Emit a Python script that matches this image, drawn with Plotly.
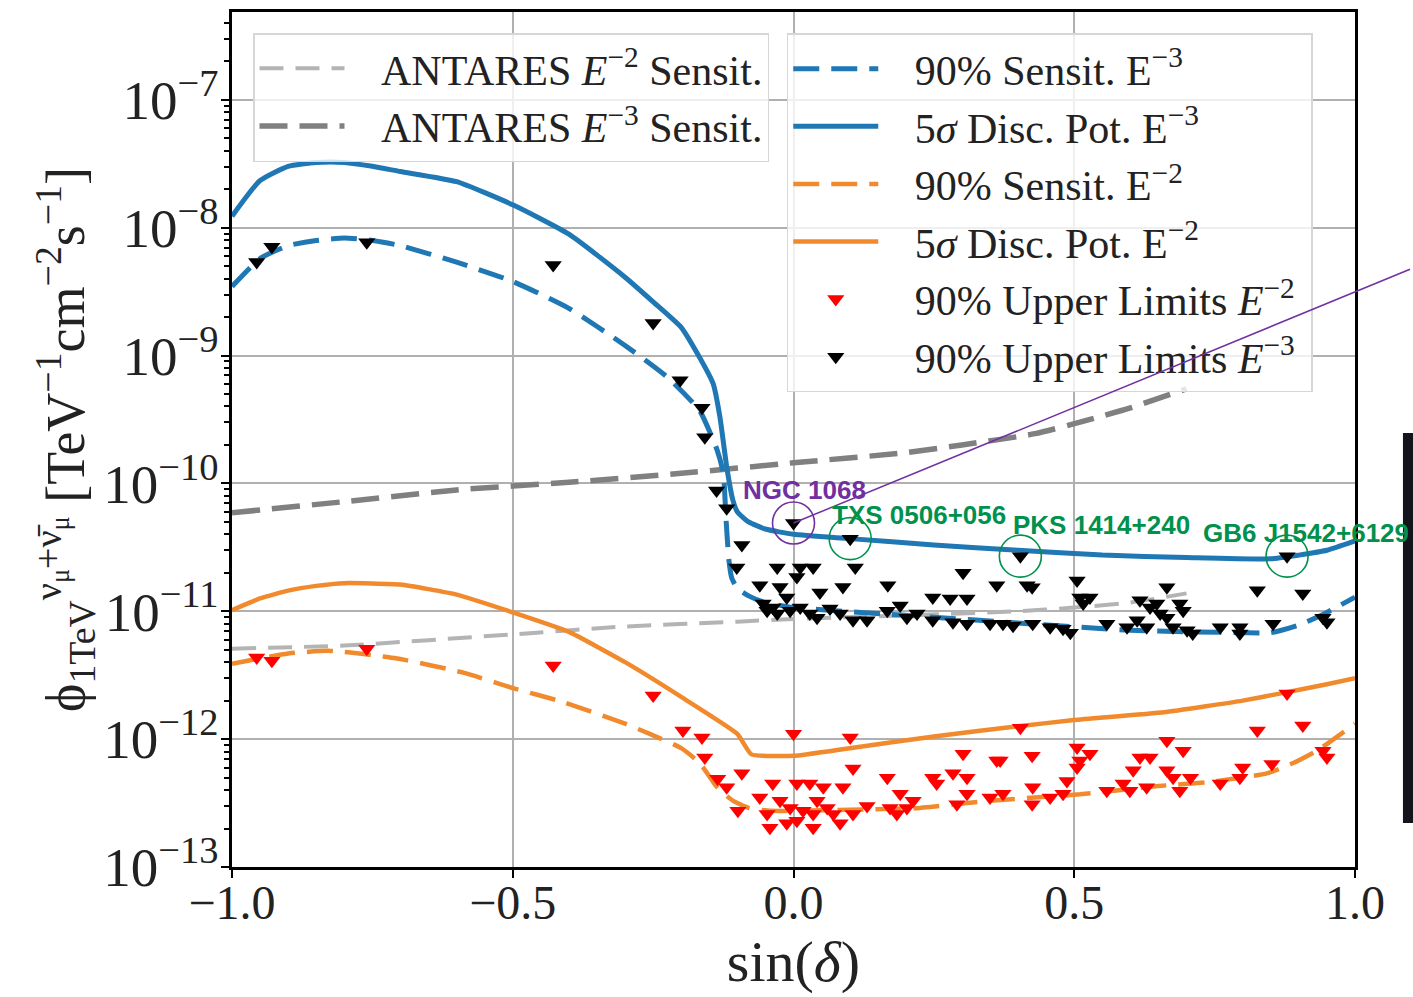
import math
import plotly.graph_objects as go

# ---------------- data ----------------
# 5 sigma discovery potential E^-3 (blue solid)
disc_e3_sind = [-1.0, -0.95, -0.9, -0.85, -0.8, -0.75, -0.7, -0.6, -0.5, -0.4, -0.3, -0.25, -0.2,
                -0.172, -0.143, -0.131, -0.119, -0.108, -0.1, -0.08, -0.05, 0.0, 0.1, 0.25, 0.4,
                0.55, 0.7, 0.85, 0.9, 0.95, 1.0]
disc_e3_flux = [1.23e-8, 2.34e-8, 3.02e-8, 3.24e-8, 3.24e-8, 3.02e-8, 2.75e-8, 2.29e-8, 1.51e-8, 8.9e-9,
                4.1e-9, 2.63e-9, 1.66e-9, 1.05e-9, 6.0e-10, 3.3e-10, 1.35e-10, 7.4e-11, 6.0e-11, 5.0e-11,
                4.4e-11, 4.0e-11, 3.7e-11, 3.3e-11, 3.0e-11, 2.75e-11, 2.63e-11, 2.57e-11, 2.75e-11,
                3.0e-11, 3.55e-11]

# 90% sensitivity E^-3 (blue dashed)
sens_e3_sind = [-1.0, -0.95, -0.9, -0.85, -0.8, -0.75, -0.7, -0.6, -0.5, -0.4, -0.3, -0.225, -0.167,
                -0.136, -0.125, -0.12, -0.115, -0.11, -0.1, -0.08, -0.05, 0.0, 0.2, 0.4, 0.6, 0.8,
                0.85, 0.9, 0.95, 1.0]
sens_e3_flux = [3.47e-9, 5.75e-9, 7.24e-9, 7.94e-9, 8.32e-9, 7.94e-9, 7.24e-9, 5.37e-9, 3.8e-9, 2.34e-9,
                1.2e-9, 6.8e-10, 3.7e-10, 1.82e-10, 1.2e-10, 5.1e-11, 2.5e-11, 1.82e-11, 1.51e-11,
                1.32e-11, 1.17e-11, 1.07e-11, 9.3e-12, 8.1e-12, 7.1e-12, 6.8e-12, 6.8e-12, 7.8e-12,
                9.8e-12, 1.29e-11]

# 5 sigma discovery potential E^-2 (orange solid)
disc_e2_sind = [-1.0, -0.95, -0.9, -0.85, -0.8, -0.7, -0.6, -0.5, -0.4, -0.3, -0.2, -0.1, -0.075, 0.0,
                0.1, 0.25, 0.4, 0.5, 0.66, 0.8, 0.87, 0.95, 1.0]
disc_e2_flux = [1.02e-11, 1.26e-11, 1.45e-11, 1.58e-11, 1.66e-11, 1.62e-11, 1.35e-11, 9.8e-12, 6.9e-12,
                4.0e-12, 2.14e-12, 1.1e-12, 7.6e-13, 7.4e-13, 8.5e-13, 1.05e-12, 1.26e-12, 1.41e-12,
                1.62e-12, 2.0e-12, 2.29e-12, 2.69e-12, 3.0e-12]

# 90% sensitivity E^-2 (orange dashed)
sens_e2_sind = [-1.0, -0.9, -0.825, -0.706, -0.588, -0.5, -0.41, -0.3, -0.256, -0.2, -0.167, -0.136,
                -0.108, -0.08, -0.04, 0.0, 0.1, 0.225, 0.35, 0.51, 0.65, 0.736, 0.843, 0.89, 0.932, 1.0]
sens_e2_flux = [3.89e-12, 4.68e-12, 4.9e-12, 4.27e-12, 3.31e-12, 2.51e-12, 1.95e-12, 1.32e-12, 1.1e-12,
                8.5e-13, 6.5e-13, 4.2e-13, 3.3e-13, 2.9e-13, 2.75e-13, 2.75e-13, 2.8e-13, 2.9e-13,
                3.3e-13, 3.7e-13, 4.3e-13, 4.6e-13, 5.4e-13, 6.5e-13, 8.1e-13, 1.32e-12]

# ANTARES sensitivities
ant_e3_sind = [-1.0, -0.8, -0.6, -0.4, -0.2, 0.0, 0.2, 0.3, 0.43, 0.52, 0.6, 0.7]
ant_e3_flux = [5.9e-11, 7.2e-11, 8.9e-11, 1.02e-10, 1.2e-10, 1.45e-10, 1.74e-10, 2.0e-10, 2.45e-10,
               3.1e-10, 3.9e-10, 5.5e-10]
ant_e2_sind = [-1.0, -0.8, -0.5, -0.3, -0.1, 0.0, 0.2, 0.4, 0.5, 0.6, 0.7]
ant_e2_flux = [5.1e-12, 5.4e-12, 6.6e-12, 7.6e-12, 8.3e-12, 8.7e-12, 9.3e-12, 1.0e-11, 1.07e-11,
               1.17e-11, 1.38e-11]

# 90% upper limits E^-3 (black)
ul_e3_sind = [-0.956, -0.929, -0.760, -0.428, -0.250, -0.202, -0.163, -0.158, -0.137, -0.119,
              -0.092, -0.101, 0.0, 0.101, 0.404, -0.029, 0.012, 0.035, 0.110, -0.060,
              -0.024, 0.006, 0.047, 0.088, 0.168, 0.302, 0.362, 0.416, -0.054, -0.037,
              -0.012, 0.012, 0.029, -0.029, -0.047, -0.006, 0.042, 0.065, 0.083, 0.106,
              0.131, 0.167, 0.190, 0.202, 0.220, 0.248, 0.248, 0.279, 0.309, 0.284,
              0.309, 0.350, 0.373, 0.391, 0.425, 0.505, 0.510, 0.528, 0.516, 0.426,
              0.457, 0.480, 0.493, 0.558, 0.594, 0.617, 0.635, 0.647, 0.665, 0.688,
              0.694, 0.612, 0.629, 0.653, 0.665, 0.676, 0.701, 0.711, 0.760, 0.795,
              0.795, 0.826, 0.854, 0.879, 0.907, 0.943, 0.950]
ul_e3_flux = [5.4e-9, 7.1e-9, 7.7e-9, 5.1e-9, 1.8e-9, 6.4e-10, 3.9e-10, 2.3e-10, 8.8e-11, 6.4e-11,
              3.3e-11, 2.2e-11, 4.9e-11, 3.7e-11, 2.7e-11, 2.2e-11, 2.2e-11, 2.2e-11, 2.2e-11, 1.6e-11,
              1.55e-11, 1.85e-11, 1.4e-11, 1.55e-11, 1.6e-11, 2.0e-11, 1.6e-11, 1.6e-11, 1.15e-11, 1.07e-11,
              1.28e-11, 1.07e-11, 9.6e-12, 9.6e-12, 1.01e-11, 1.01e-11, 8.9e-12, 1.05e-11, 9.6e-12, 8.5e-12,
              8.5e-12, 1.01e-11, 1.11e-11, 8.9e-12, 9.6e-12, 1.28e-11, 8.5e-12, 1.26e-11, 1.26e-11, 8.2e-12,
              8.0e-12, 8.0e-12, 8.0e-12, 7.7e-12, 1.54e-11, 1.74e-11, 1.28e-11, 1.28e-11, 1.15e-11, 8.0e-12,
              7.5e-12, 7.3e-12, 6.8e-12, 8.0e-12, 7.5e-12, 1.22e-11, 1.07e-11, 1.15e-11, 1.54e-11, 1.15e-11,
              1.01e-11, 8.5e-12, 7.5e-12, 9.6e-12, 8.9e-12, 7.5e-12, 7.1e-12, 6.7e-12, 7.5e-12, 7.5e-12,
              6.7e-12, 1.46e-11, 8.0e-12, 2.7e-11, 1.38e-11, 8.9e-12, 8.2e-12]

# 90% upper limits E^-2 (red)
ul_e2_sind = [-0.956, -0.929, -0.760, -0.428, -0.250, -0.197, -0.163, -0.158, -0.135, -0.119,
              -0.092, -0.099, 0.0, 0.101, 0.106, -0.060, -0.047, -0.037, -0.024, -0.042,
              -0.012, 0.006, 0.029, 0.017, 0.006, 0.035, 0.042, 0.053, 0.060, 0.035,
              -0.006, 0.071, 0.083, 0.106, 0.088, 0.131, 0.167, 0.172, 0.190, 0.202,
              0.213, 0.184, 0.248, 0.255, 0.284, 0.302, 0.309, 0.291, 0.309, 0.350,
              0.362, 0.373, 0.404, 0.368, 0.425, 0.426, 0.425, 0.457, 0.480, 0.487,
              0.505, 0.510, 0.528, 0.505, 0.558, 0.587, 0.599, 0.605, 0.617, 0.635,
              0.629, 0.665, 0.665, 0.676, 0.688, 0.694, 0.707, 0.760, 0.795, 0.800,
              0.826, 0.852, 0.879, 0.907, 0.943, 0.950]
ul_e2_flux = [4.35e-12, 4.1e-12, 5.1e-12, 3.77e-12, 2.19e-12, 1.17e-12, 1.03e-12, 7.2e-13, 4.9e-13, 4.2e-13,
              5.4e-13, 2.75e-13, 1.1e-12, 1.03e-12, 5.9e-13, 3.5e-13, 2.6e-13, 4.5e-13, 3.3e-13, 2.03e-13,
              2.2e-13, 4.5e-13, 4.5e-13, 2.75e-13, 2.3e-13, 2.03e-13, 3.3e-13, 4.2e-13, 2.9e-13, 2.6e-13,
              2.9e-13, 2.6e-13, 2.2e-13, 2.6e-13, 4.2e-13, 3.0e-13, 5.0e-13, 2.9e-13, 3.74e-13, 2.9e-13,
              3.3e-13, 2.6e-13, 5.0e-13, 4.5e-13, 5.4e-13, 7.7e-13, 5.0e-13, 3.1e-13, 3.74e-13, 3.5e-13,
              6.8e-13, 3.74e-13, 1.23e-12, 6.8e-13, 7.4e-13, 4.2e-13, 3.1e-13, 3.5e-13, 3.74e-13, 4.7e-13,
              8.6e-13, 6.8e-13, 7.7e-13, 6.0e-13, 3.95e-13, 4.5e-13, 3.95e-13, 5.7e-13, 7.2e-13, 7.2e-13,
              4.2e-13, 9.7e-13, 5.7e-13, 5.0e-13, 3.95e-13, 8.1e-13, 5.0e-13, 4.5e-13, 5.0e-13, 6.0e-13,
              1.17e-12, 6.4e-13, 2.27e-12, 1.28e-12, 8.1e-13, 7.2e-13]

# highlighted sources
src_names = ["NGC 1068", "TXS 0506+056", "PKS 1414+240", "GB6 J1542+6129"]
src_sind = [0.0, 0.101, 0.404, 0.879]
src_flux = [4.9e-11, 3.7e-11, 2.7e-11, 2.7e-11]
src_colors = ["#7030a0", "#00914d", "#00914d", "#00914d"]
src_label_shift = [(11, 33), (69, 24), (81, 31), (19, 23)]

# ---------------- style ----------------
BLUE = "#1f77b4"
ORANGE = "#f08a2c"
GRAY_D = "#808080"
GRAY_L = "#b4b4b4"
SERIF = "Liberation Serif"
TXT = "#222222"
PAD = "\u00a0\u00a0\u00a0"

fig = go.Figure()

def add_line(x, y, color, width, dash, name, legend, smooth=0.6):
    fig.add_trace(go.Scatter(x=x, y=y, mode="lines", name=PAD + name, legend=legend,
                             line=dict(color=color, width=width, dash=dash,
                                       shape="spline", smoothing=smooth)))

add_line(ant_e2_sind, ant_e2_flux, GRAY_L, 4, "24px,12px", "ANTARES <i>E</i><sup>−2</sup> Sensit.", "legend")
add_line(ant_e3_sind, ant_e3_flux, GRAY_D, 5.5, "28px,12px", "ANTARES <i>E</i><sup>−3</sup> Sensit.", "legend")
add_line(sens_e3_sind, sens_e3_flux, BLUE, 5, "26px,12px", "90% Sensit. E<sup>−3</sup>", "legend2", 0.5)
add_line(disc_e3_sind, disc_e3_flux, BLUE, 5, "solid", "5<i>σ</i> Disc. Pot. E<sup>−3</sup>", "legend2", 0.5)
add_line(sens_e2_sind, sens_e2_flux, ORANGE, 4.5, "26px,12px", "90% Sensit. E<sup>−2</sup>", "legend2", 0.5)
add_line(disc_e2_sind, disc_e2_flux, ORANGE, 4.5, "solid", "5<i>σ</i> Disc. Pot. E<sup>−2</sup>", "legend2", 0.4)

fig.add_trace(go.Scatter(x=ul_e2_sind, y=ul_e2_flux, mode="markers", legend="legend2",
                         name=PAD + "90% Upper Limits <i>E</i><sup>−2</sup>\u00a0",
                         marker=dict(symbol="triangle-down", size=15, color="#ff0000")))
fig.add_trace(go.Scatter(x=ul_e3_sind, y=ul_e3_flux, mode="markers", legend="legend2",
                         name=PAD + "90% Upper Limits <i>E</i><sup>−3</sup>",
                         marker=dict(symbol="triangle-down", size=15, color="#000000")))

# circles around highlighted sources
fig.add_trace(go.Scatter(x=src_sind, y=src_flux, mode="markers", showlegend=False, hoverinfo="skip",
                         marker=dict(symbol="circle-open", size=42, color=src_colors,
                                     line=dict(width=1.6, color=src_colors))))

# purple pointer line from NGC 1068
fig.add_annotation(x=src_sind[0], y=math.log10(src_flux[0]), xref="x", yref="y",
                   ax=625, ay=-255, axref="pixel", ayref="pixel", text=" ",
                   showarrow=True, arrowhead=0, arrowwidth=1.5, arrowcolor="#7030a0", standoff=0)

for name, sx, sf, col, (dx, dy) in zip(src_names, src_sind, src_flux, src_colors, src_label_shift):
    fig.add_annotation(x=sx, y=math.log10(sf), xref="x", yref="y", text="<b>%s</b>" % name,
                       showarrow=False, xshift=dx, yshift=dy,
                       font=dict(family="Liberation Sans", size=26, color=col))

# dark bar at the right edge (part of the reference picture)
fig.add_shape(type="rect", xref="paper", yref="paper", x0=1.0427, x1=1.06, y0=0.0515, y1=0.5076,
              fillcolor="#15141c", line=dict(width=0), layer="below")

ylabel = ("ϕ<sub>1TeV</sub><sup>ν<sub>μ</sub>+ν̄<sub>μ</sub></sup> "
          "[TeV<sup>−1</sup>cm<sup>−2</sup>s<sup>−1</sup>]")

fig.update_layout(
    width=1413, height=997,
    margin=dict(l=232, r=58, t=12, b=130, autoexpand=False),
    paper_bgcolor="white", plot_bgcolor="white",
    font=dict(family=SERIF, color=TXT),
    xaxis=dict(range=[-1, 1], tickmode="linear", tick0=-1, dtick=0.5, tickformat=".1f",
               showgrid=True, gridcolor="#b0b0b0", gridwidth=1.5, automargin=False,
               showline=True, linecolor="black", linewidth=2.5, mirror=True,
               ticks="outside", ticklen=8, tickwidth=2, tickcolor="black", ticklabelstandoff=-16,
               tickfont=dict(family=SERIF, size=48, color=TXT),
               title=dict(text="sin(<i>δ</i>)", font=dict(family=SERIF, size=58, color=TXT),
                          standoff=4),
               zeroline=False),
    yaxis=dict(type="log", range=[-13, -6.313], tickmode="linear", tick0=0, dtick=1,
               exponentformat="power", automargin=False,
               showgrid=True, gridcolor="#b0b0b0", gridwidth=1.5,
               showline=True, linecolor="black", linewidth=2.5, mirror=True,
               ticks="outside", ticklen=8, tickwidth=2, tickcolor="black", ticklabelstandoff=-6,
               minor=dict(ticks="outside", ticklen=5, tickwidth=1.5, tickcolor="black",
                          dtick="D1", showgrid=False),
               tickfont=dict(family=SERIF, size=44, color=TXT),
               title=dict(text=ylabel, font=dict(family=SERIF, size=54, color=TXT), standoff=2),
               zeroline=False),
    legend=dict(x=0.0187, y=0.9754, xanchor="left", yanchor="top",
                bgcolor="rgba(255,255,255,0.8)", bordercolor="#d6d6d6", borderwidth=1.5,
                font=dict(family=SERIF, size=42, color=TXT), itemwidth=85),
    legend2=dict(x=0.494, y=0.975, xanchor="left", yanchor="top",
                 bgcolor="rgba(255,255,255,0.8)", bordercolor="#d6d6d6", borderwidth=1.5,
                 font=dict(family=SERIF, size=42, color=TXT), itemwidth=85),
    showlegend=True,
)

fig.write_html("out.html")
